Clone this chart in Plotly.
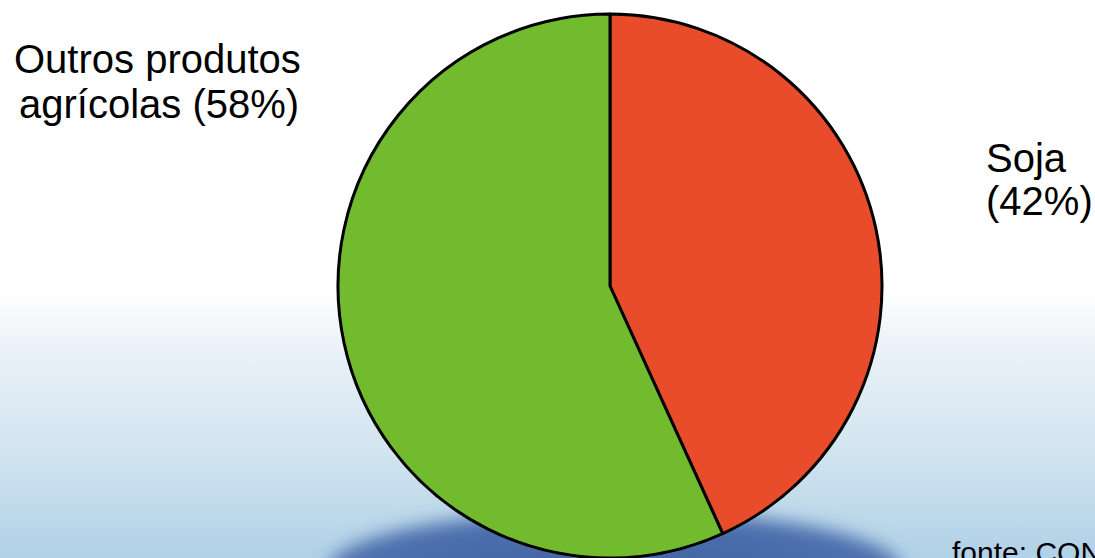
import base64
import plotly.graph_objects as go

# ---- data ----
categories = ["Soja", "Outros produtos agrícolas"]
shares = [43.2, 56.8]            # share of slice as drawn in the picture
label_lines_outros = ["Outros produtos", "agrícolas (58%)"]
label_lines_soja = ["Soja", "(42%)"]
source_text = "fonte: CONAB"
slice_colors = ["#E84C2A", "#72BB2E"]

W, H = 1095, 558

# ---- background (gradient + bottom glow) as an SVG image ----
svg = f'''<svg xmlns="http://www.w3.org/2000/svg" width="{W}" height="{H}" viewBox="0 0 {W} {H}">
<defs>
<linearGradient id="bg" x1="0" y1="0" x2="0" y2="1">
<stop offset="0" stop-color="#ffffff"/>
<stop offset="0.52" stop-color="#ffffff"/>
<stop offset="0.62" stop-color="#ebf2f8"/>
<stop offset="0.80" stop-color="#d3e5f0"/>
<stop offset="1" stop-color="#b0d1e7"/>
</linearGradient>
<filter id="blur" x="-20%" y="-60%" width="140%" height="220%">
<feGaussianBlur stdDeviation="9"/>
</filter>
<filter id="blur2" x="-30%" y="-80%" width="160%" height="260%">
<feGaussianBlur stdDeviation="20"/>
</filter>
</defs>
<rect x="0" y="0" width="{W}" height="{H}" fill="url(#bg)"/>
<ellipse cx="615" cy="570" rx="286" ry="59" fill="#4d6fad" filter="url(#blur)"/>
<ellipse cx="615" cy="585" rx="200" ry="45" fill="#3d5ea0" opacity="0.6" filter="url(#blur2)"/>
</svg>'''
svg_uri = "data:image/svg+xml;base64," + base64.b64encode(svg.encode()).decode()

# pie geometry
radius = 272
cx = 610
top = 14
dom_y = [0, 1 - top / H]
dom_x = [(cx - radius) / W, (cx + radius) / W]

fig = go.Figure(
    go.Pie(
        labels=categories,
        values=shares,
        sort=False,
        direction="clockwise",
        rotation=0,
        marker=dict(colors=slice_colors, line=dict(color="black", width=3)),
        textinfo="none",
        hoverinfo="label+percent",
        domain=dict(x=dom_x, y=dom_y),
        showlegend=False,
    )
)

font_main = dict(family="Liberation Sans, Arial, sans-serif", size=40, color="black")


def ann(text, x_px, y_px, xanchor, font):
    return dict(
        text=text, x=x_px / W, y=1 - y_px / H, xref="paper", yref="paper",
        xanchor=xanchor, yanchor="middle", showarrow=False, font=font,
    )


annotations = [
    ann(label_lines_outros[0], 157, 59, "center", font_main),
    ann(label_lines_outros[1], 159, 104, "center", font_main),
    ann(label_lines_soja[0], 984, 158, "left", font_main),
    ann(label_lines_soja[1], 984, 201, "left", font_main),
    ann(source_text, 950, 552, "left",
        dict(family="Liberation Sans, Arial, sans-serif", size=30, color="black")),
]

fig.update_layout(
    width=W,
    height=H,
    margin=dict(l=0, r=0, t=0, b=0),
    paper_bgcolor="white",
    plot_bgcolor="white",
    images=[dict(source=svg_uri, xref="paper", yref="paper", x=0, y=1,
                 sizex=1, sizey=1, xanchor="left", yanchor="top",
                 sizing="stretch", layer="below")],
    annotations=annotations,
)

fig.write_html("out.html")
